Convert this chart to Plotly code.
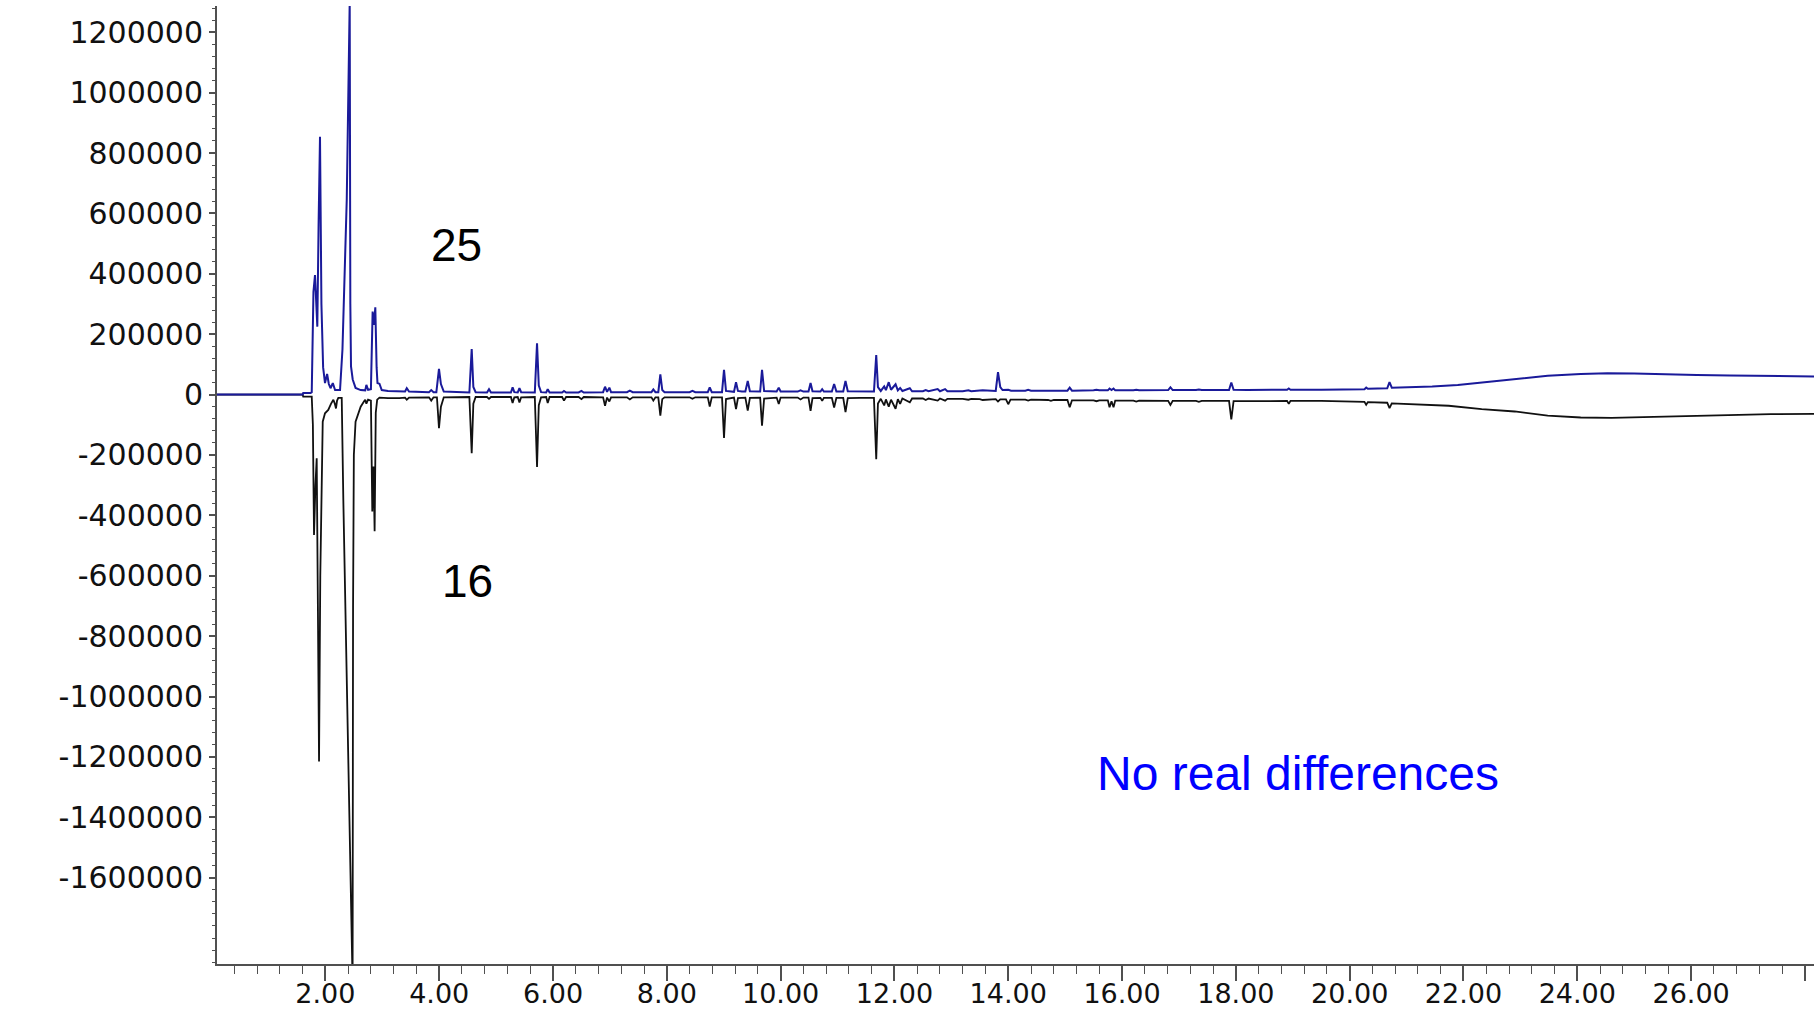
import numpy as np
import plotly.graph_objects as go

# ---------------- data (retention time in min, abundance in thousands) ----------------
blue_time_early = [0.095, 1.60, 1.61, 1.74, 1.76, 1.79, 1.817, 1.838, 1.858, 1.88, 1.905, 1.93, 1.96,
                   1.993, 2.03, 2.06, 2.09, 2.13, 2.17, 2.257, 2.30, 2.375, 2.427, 2.438, 2.45, 2.48,
                   2.53, 2.62, 2.70, 2.72, 2.75, 2.80, 2.83, 2.854, 2.877, 2.90, 2.915, 2.95, 2.99, 3.10]
blue_k_early = [0, 0, 5, 5, 8, 340, 396, 300, 225, 560, 854, 300, 90,
                38, 68, 35, 21, 38, 15, 15, 150, 644, 1300, 300, 93, 50,
                22, 15, 14, 32, 16, 18, 275, 231, 289, 90, 38, 36, 15, 12]

blue_time_main = [3.30, 3.40, 3.43, 3.47, 3.82, 3.86, 3.90, 3.95, 3.996, 4.03, 4.08, 4.53, 4.571, 4.60, 4.64,
                  4.84, 4.875, 4.91, 5.26, 5.29, 5.32, 5.38, 5.41, 5.44, 5.68, 5.719, 5.75, 5.79, 5.88,
                  5.907, 5.94, 6.16, 6.193, 6.23, 6.45, 6.50, 6.54, 6.88, 6.914, 6.95, 6.99, 7.02, 7.30,
                  7.35, 7.40, 7.73, 7.763, 7.80, 7.85, 7.886, 7.92, 7.96, 8.40, 8.45, 8.50, 8.72, 8.754,
                  8.79, 8.97, 9.005, 9.04, 9.18, 9.216, 9.25, 9.32, 9.38, 9.422, 9.46, 9.64, 9.673, 9.71,
                  9.93, 9.967, 10.00, 10.30, 10.35, 10.40, 10.49, 10.526, 10.56, 10.70, 10.73, 10.76,
                  10.90, 10.94, 10.98, 11.10, 11.14, 11.18, 11.40, 11.64, 11.68, 11.71, 11.76, 11.82,
                  11.85, 11.90, 11.94, 12.02, 12.06, 12.10, 12.14, 12.27, 12.31, 12.50, 12.55, 12.60,
                  12.76, 12.80, 12.89, 12.93, 13.20, 13.30, 13.35, 13.50, 13.55, 13.78, 13.82, 13.86,
                  13.90, 14.00, 14.05, 14.30, 14.35, 14.40, 14.70, 14.75, 14.80, 15.04, 15.08, 15.12,
                  15.50, 15.55, 15.60, 15.75, 15.78, 15.815, 15.85, 15.88, 16.20, 16.25, 16.30, 16.81,
                  16.85, 16.89, 17.30, 17.35, 17.40, 17.88, 17.92, 17.96, 18.20, 18.90, 18.93, 18.96,
                  19.50, 20.00, 20.26, 20.29, 20.32, 20.66, 20.70, 20.74, 21.00, 21.45, 21.90, 22.32,
                  22.90, 23.48, 24.06, 24.53, 25.00, 25.51, 26.10, 26.68, 27.40, 28.16]
blue_k_main = [12, 10, 21, 10, 8, 15, 8, 8, 85, 35, 10, 7, 151, 25, 8,
               7, 18, 7, 7, 24, 8, 7, 21, 8, 7, 170, 30, 8, 7,
               18, 7, 7, 12, 7, 7, 12, 7, 8, 26, 9, 23, 8, 8,
               13, 8, 8, 17, 8, 8, 67, 15, 8, 8, 12, 8, 8, 24,
               8, 8, 82, 12, 9, 41, 12, 10, 10, 45, 11, 10, 82, 12,
               10, 23, 10, 10, 14, 10, 10, 38, 11, 10, 18, 10,
               10, 35, 10, 10, 45, 11, 10, 10, 131, 25, 12, 27,
               15, 41, 16, 34, 14, 22, 12, 21, 11, 11, 15, 11,
               18, 11, 18, 11, 11, 14, 11, 12, 14, 12, 74, 25,
               15, 16, 13, 13, 16, 13, 13, 15, 13, 13, 23, 13,
               14, 16, 14, 14, 20, 15, 20, 14, 14, 16, 14, 15,
               24, 15, 15, 17, 15, 15, 40, 16, 15, 16, 20, 16,
               16, 17, 18, 23, 19, 21, 41, 23, 24, 27, 32, 40,
               51, 62, 68, 71, 70, 67, 65, 63, 61, 60]

black_time_early = [0.095, 1.60, 1.61, 1.76, 1.78, 1.80, 1.825, 1.847, 1.868, 1.888, 1.91, 1.935, 1.953,
                    1.993, 2.02, 2.05, 2.10, 2.14, 2.165, 2.186, 2.205, 2.227, 2.287, 2.315, 2.40, 2.478,
                    2.486, 2.50, 2.53, 2.575, 2.62, 2.68, 2.70, 2.72, 2.75, 2.80, 2.824, 2.845, 2.865,
                    2.885, 2.91, 2.95, 3.10]
black_k_early = [0, 0, -7, -7, -100, -465, -300, -211, -700, -1215, -600, -200, -90,
                 -62, -58, -51, -30, -17, -30, -46, -20, -11, -11, -349, -1185, -1950,
                 -700, -200, -90, -62, -40, -22, -17, -30, -17, -20, -387, -238, -453,
                 -60, -17, -10, -12]

black_time_main = [3.30, 3.40, 3.43, 3.47, 3.82, 3.86, 3.90, 3.96, 3.996, 4.03, 4.08, 4.53, 4.571, 4.60, 4.64,
                   4.84, 4.875, 4.91, 5.26, 5.29, 5.32, 5.38, 5.41, 5.44, 5.68, 5.719, 5.75, 5.79, 5.88,
                   5.907, 5.94, 6.16, 6.193, 6.23, 6.45, 6.50, 6.54, 6.88, 6.914, 6.95, 6.99, 7.02, 7.30,
                   7.35, 7.40, 7.73, 7.763, 7.80, 7.85, 7.886, 7.92, 7.96, 8.40, 8.45, 8.50, 8.72, 8.754,
                   8.79, 8.97, 9.005, 9.04, 9.18, 9.216, 9.25, 9.38, 9.422, 9.46, 9.64, 9.673, 9.71,
                   9.93, 9.967, 10.00, 10.30, 10.35, 10.40, 10.49, 10.526, 10.56, 10.70, 10.73, 10.76,
                   10.90, 10.94, 10.98, 11.10, 11.14, 11.18, 11.40, 11.64, 11.68, 11.71, 11.76, 11.82,
                   11.85, 11.90, 11.94, 12.02, 12.06, 12.10, 12.14, 12.27, 12.31, 12.50, 12.55, 12.60,
                   12.76, 12.80, 12.89, 12.93, 13.20, 13.30, 13.35, 13.50, 13.55, 13.78, 13.82, 13.86,
                   13.96, 14.00, 14.04, 14.30, 14.35, 14.40, 14.70, 14.75, 14.80, 15.04, 15.08, 15.12,
                   15.50, 15.55, 15.60, 15.75, 15.78, 15.815, 15.85, 15.88, 16.20, 16.25, 16.30, 16.81,
                   16.85, 16.89, 17.30, 17.35, 17.40, 17.88, 17.92, 17.96, 18.20, 18.90, 18.93, 18.96,
                   19.50, 20.00, 20.26, 20.29, 20.32, 20.66, 20.70, 20.74, 21.00, 21.45, 21.74, 22.32,
                   22.90, 23.48, 24.06, 24.60, 25.51, 26.10, 26.68, 27.40, 28.16]
black_k_main = [-12, -10, -17, -10, -9, -20, -9, -9, -111, -40, -9, -8, -194, -30, -8,
                -8, -14, -8, -8, -28, -9, -8, -26, -9, -8, -240, -35, -9, -8,
                -28, -8, -8, -20, -8, -8, -15, -8, -9, -37, -10, -23, -9, -9,
                -16, -9, -9, -20, -9, -9, -70, -15, -9, -9, -14, -9, -9, -40,
                -9, -9, -144, -15, -10, -48, -12, -10, -53, -11, -10, -103, -13,
                -10, -31, -10, -10, -16, -10, -10, -54, -12, -11, -21, -11,
                -11, -43, -11, -11, -58, -12, -11, -11, -214, -30, -14, -36,
                -16, -40, -17, -47, -15, -31, -13, -26, -13, -13, -18, -13,
                -20, -13, -20, -14, -14, -17, -14, -15, -18, -15, -23, -16,
                -16, -32, -17, -17, -20, -17, -18, -21, -18, -18, -42, -19,
                -19, -22, -19, -19, -42, -22, -42, -20, -20, -23, -20, -21,
                -34, -21, -21, -24, -21, -21, -82, -22, -22, -21, -31, -21,
                -21, -22, -24, -34, -25, -27, -45, -29, -31, -34, -37, -48,
                -56, -70, -76, -77, -73, -69, -66, -65, -64]

x_tick_vals = [2, 4, 6, 8, 10, 12, 14, 16, 18, 20, 22, 24, 26, 28]
x_tick_text = ["2.00", "4.00", "6.00", "8.00", "10.00", "12.00", "14.00", "16.00",
               "18.00", "20.00", "22.00", "24.00", "26.00", ""]
y_tick_vals = [-1600000, -1400000, -1200000, -1000000, -800000, -600000, -400000, -200000,
               0, 200000, 400000, 600000, 800000, 1000000, 1200000]
y_tick_text = [str(v) for v in y_tick_vals]

# ---------------- figure ----------------
blue_t = blue_time_early + blue_time_main
blue_y = np.array(blue_k_early + blue_k_main) * 1000
black_t = black_time_early + black_time_main
black_y = np.array(black_k_early + black_k_main) * 1000

fig = go.Figure()
fig.add_trace(go.Scatter(x=black_t, y=black_y, mode="lines",
                         line=dict(color="#111111", width=1.8), name="16"))
fig.add_trace(go.Scatter(x=blue_t, y=blue_y, mode="lines",
                         line=dict(color="#1a1a9a", width=2), name="25"))

axis_col = "#505050"

fig.update_layout(
    width=1818, height=1010, autosize=False,
    margin=dict(l=217, r=4, t=6, b=46),
    paper_bgcolor="white", plot_bgcolor="white",
    showlegend=False,
    xaxis=dict(range=[0.095, 28.16], showgrid=False, zeroline=False, automargin=False,
               showline=True, linecolor=axis_col, linewidth=2,
               tickmode="array", tickvals=x_tick_vals, ticktext=x_tick_text,
               ticks="outside", ticklen=15, tickwidth=1.5, tickcolor=axis_col,
               tickangle=0, ticklabelstandoff=-10,
               tickfont=dict(family="DejaVu Sans", size=27, color="#111111"),
               minor=dict(tickmode="linear", tick0=0, dtick=0.4, ticks="outside",
                          ticklen=8, tickwidth=1.2, tickcolor=axis_col)),
    yaxis=dict(range=[-1886000, 1287000], showgrid=False, zeroline=False, automargin=False,
               showline=True, linecolor=axis_col, linewidth=2,
               tickmode="array", tickvals=y_tick_vals, ticktext=y_tick_text,
               ticks="outside", ticklen=6, tickwidth=1.5, tickcolor=axis_col,
               ticklabelstandoff=0,
               tickfont=dict(family="DejaVu Sans", size=30, color="#111111"),
               minor=dict(tickmode="linear", tick0=0, dtick=40000, ticks="outside",
                          ticklen=3, tickwidth=1.2, tickcolor=axis_col)),
    annotations=[
        dict(x=4.31, y=496000, xref="x", yref="y", text="25", showarrow=False,
             font=dict(family="Liberation Sans", size=46, color="#000000")),
        dict(x=4.49, y=-616000, xref="x", yref="y", text="16", showarrow=False,
             font=dict(family="Liberation Sans", size=46, color="#000000")),
        dict(x=19.1, y=-1255000, xref="x", yref="y", text="No real differences", showarrow=False,
             font=dict(family="Liberation Sans", size=48, color="#0000ff")),
    ],
)

fig.write_html("out.html", config={"displayModeBar": False},
               post_script="document.body.style.margin='0';document.body.style.overflow='hidden';")
